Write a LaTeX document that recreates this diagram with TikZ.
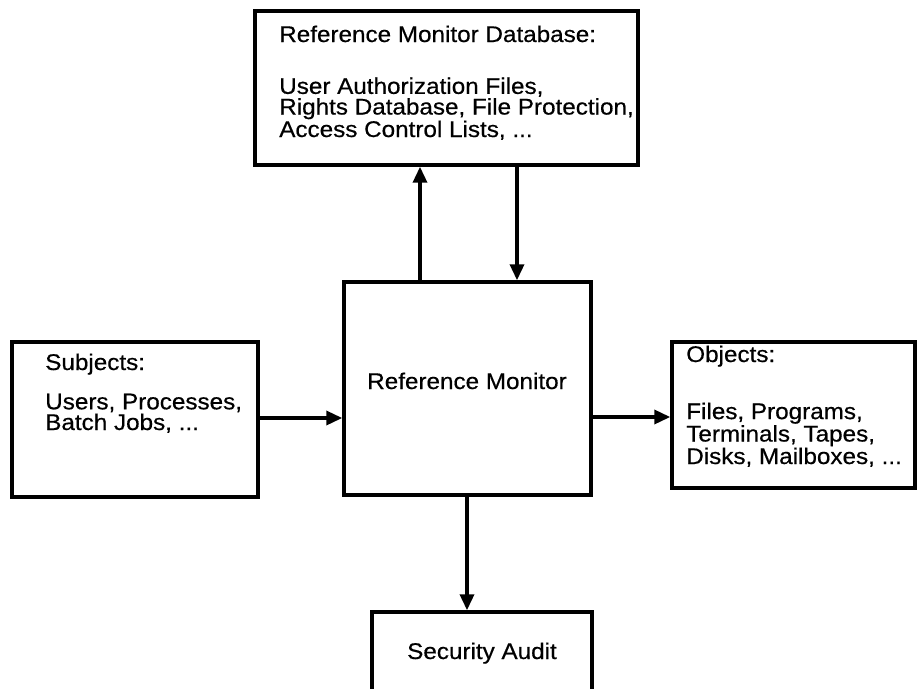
\documentclass[tikz,border=0pt]{standalone}
\usepackage{fontspec}
\setmainfont{Liberation Sans}[FakeStretch=1.07,FakeBold=0.5]
\usetikzlibrary{arrows.meta}
\begin{document}
\begin{tikzpicture}[x=0.75pt,y=-0.75pt,
  box/.style={draw, line width=2.6pt, rectangle, inner sep=0pt},
  lbl/.style={anchor=base west, inner sep=0pt, align=left, font=\fontsize{17}{15.5}\selectfont},
  clbl/.style={anchor=base, inner sep=0pt, font=\fontsize{17}{15.5}\selectfont},
  arr/.style={line width=2.6pt, -{Triangle[length=12pt,width=10.5pt]}}]
\useasboundingbox (0,0) rectangle (918,689);
\clip (0,0) rectangle (918,689);
% boxes
\node[box, minimum width=287.25pt, minimum height=115.5pt] (db) at (446.5,88) {};
\node[box, minimum width=185.25pt, minimum height=159.75pt] (rm) at (467.5,388.5) {};
\node[box, minimum width=184.5pt, minimum height=116.25pt] (subj) at (135,419.5) {};
\node[box, minimum width=182.25pt, minimum height=109.5pt] (obj) at (793.5,415) {};
\node[box, minimum width=165pt, minimum height=102pt] (audit) at (482,680) {};
% texts (multi-line nodes are placed by the baseline of their last line)
\node[lbl] (dbh) at (279,42) {Reference Monitor Database:};
\node[lbl] (dbt) at (279,137) {User Authorization Files,\\Rights Database, File Protection,\\Access Control Lists, ...};
\node[lbl] (subjh) at (45,370) {Subjects:};
\node[lbl] (subjt) at (45,430) {Users, Processes,\\Batch Jobs, ...};
\node[lbl] (objh) at (686,362) {Objects:};
\node[lbl] (objt) at (686,464) {Files, Programs,\\Terminals, Tapes,\\Disks, Mailboxes, ...};
\node[clbl] (rmt) at (467,389) {Reference Monitor};
\node[clbl] (auditt) at (482,659) {Security Audit};
% connectors
\draw[arr] (rm.north -| 420,0) -- (db.south -| 420,0);
\draw[arr] (db.south -| 517,0) -- (rm.north -| 517,0);
\draw[arr] (subj.east |- 0,418) -- (rm.west |- 0,418);
\draw[arr] (rm.east |- 0,417) -- (obj.west |- 0,417);
\draw[arr] (rm.south -| 467,0) -- (audit.north -| 467,0);
\end{tikzpicture}
\end{document}
